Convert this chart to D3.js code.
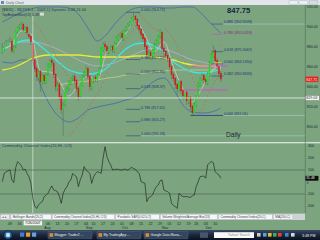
<!DOCTYPE html>
<html>
<head>
<meta charset="utf-8">
<script src="https://cdn.jsdelivr.net/npm/d3@7"></script>
<style>
html, body { margin: 0; padding: 0; overflow: hidden; background: #7ba47f; }
svg { display: block; }
</style>
</head>
<body>
<svg id="chart" width="320" height="240"></svg>
<script>
// Daily bars, 2 Jul 2007 .. 13 Dec 2007, trading-day index 0..115
const opens = [875,878,883,884,887,886,876,881,895,900,900,903,896,900,893,891,884,867,859,849,
  856,844,852,845,853,861,867,864,853,839,843,831,818,823,835,839,844,849,851,847,
  839,831,842,852,853,859,851,839,846,850,847,853,860,877,883,881,875,879,881,876,
  884,888,892,894,888,897,898,903,903,907,911,908,902,898,893,889,881,871,875,870,
  875,883,885,891,895,879,876,872,869,861,853,849,843,837,846,837,830,835,825,830,
  821,813,822,831,842,849,852,848,844,852,863,871,877,867,861,854];
const highs = [884,884,887,888,890,888,882,897,901,903,905,904,901,901,895,892,886,869,861,858,
  857,853,853,854,864,868,869,866,854,845,845,833,825,838,841,847,850,852,853,848,
  841,845,853,856,861,860,852,847,851,852,854,860,880,885,886,882,880,882,882,885,
  891,893,895,896,898,901,904,906,910,914.71,912,909,903,899,894,890,882,877,876,878,
  884,888,892,898,896,880,877,874,870,862,855,850,844,847,847,838,836,836,831,831,
  822,825,832,845,850,854,853,850,855,866,874,882,878,869,862,856];
const lows = [873,876,881,882,884,874,874,879,893,897,898,895,894,892,888,882,860,855,846,847,
  835,842,843,843,851,859,861,849,836,836,827,813,791.19,820,832,836,842,846,843,835,
  826,829,840,849,851,848,836,837,844,845,845,851,858,875,877,873,873,876,874,874,
  882,886,889,886,886,895,896,900,901,904,904,898,894,889,885,877,868,868,867,868,
  873,881,883,888,875,871,868,865,856,848,845,838,833,835,833,827,828,822,823,817,
  811.56,812,820,829,840,846,844,842,842,850,861,869,864,857,850,845];
const closes = [878,882,884,886,887,876,880,896,899,901,902,897,899,894,890,885,866,858,850,855,
  845,851,846,852,862,866,864,852,840,842,830,817,821,836,838,845,848,850,846,838,
  830,843,851,854,858,850,840,845,849,848,852,858,878,882,880,876,878,880,877,883,
  889,891,893,889,896,899,902,904,908,910,907,901,897,892,888,880,872,874,871,876,
  882,886,890,896,878,875,871,868,860,852,848,842,838,845,836,831,834,826,829,820,
  814,823,830,843,848,851,847,845,853,864,872,876,866,860,853,847.75];

// Commodity Channel Index, one value per bar
const cci = [3,75,85,94,100,17,-5,120,170,155,133,100,106,70,44,-11,-136,-200,-220,-190,
  -175,-164,-122,-110,-94,-60,-33,-67,-72,-81,-120,-178,-94,-60,-39,0,17,72,55,44,
  -39,20,58,128,100,86,72,-11,44,70,86,80,72,200,294,211,170,142,100,104,
  106,106,100,100,108,104,100,110,122,112,106,85,72,3,-5,-11,-164,-130,-122,-108,
  -70,-39,-25,10,17,-67,-75,-81,-94,-178,-195,-206,-220,-94,-110,-122,-122,-122,-125,-128,
  -115,-108,-39,0,44,48,50,31,142,160,170,161,86,70,58,31];

// Parabolic SAR dots (null = none shown)
const sar = [null,null,null,null,null,null,null,null,null,null,null,null,null,null,null,null,
  904,903,901,899,896,893,890,887,884,881,878,875,872,869,866,862,858,855,852,
  791,793,795,797,800,803,806,809,812,815,818,821,824,827,830,833,836,840,845,850,
  854,858,862,865,868,871,874,877,880,883,886,889,892,895,898,901,
  914,913,911,909,907,905,903,901,899,898,897,896,
  867,868,870,
  898,896,894,891,888,885,881,877,873,869,865,861,857,853,849,845,841,
  812,815,818,822,826,831,835,839,843,846,848,849,
  882];

// Indicator lines read every 5 bars
const sampleIdx = [0,5,10,15,20,25,30,35,40,45,50,55,60,65,70,75,80,85,90,95,100,105,110,115];
const bbUpper = [905,910,915,918,920,920,920,919,913,899,886,893,905,914,919,920,920,919,919,920,920,913,903,894];
const bbLower = [865,864,867,867,842,822,810,805,809,817,820,822,824,827,830,838,846,849,838,822,815,814,815,819];
const maCyan = [877,882,886,887,881,873,864,857,854,853,854,859,869,878,883,884,881,875,865,859,855,854,855,859];
const maYellow = [857,859,863,868,871,872,872,872,872,871,870,870,870,870,871,871,870,869,867,864,862,861,861,860];
const maLavender = [882,884,885,885,884,881,877,872,867,863,861,862,865,869,873,877,879,878,875,871,867,865,863,862];
const maKhaki = [842,844,845,846,847,849,850,852,853,854,855,856,857,857,857,857,857,857]; // from bar 30
const maFast = [878,883,896,893,856,855,846,831,842,851,847,875,881,894,906,892,875,885,860,838,825,839,856,861];

// Fibonacci retracements
const fibRatiosL = [0, 0.382, 0.5, 0.618, 0.786, 0.886, 1];
const fibHighL = 914.71, fibLowL = 791.19;
const fibRatiosR = [0, 0.382, 0.5, 0.618, 0.786, 0.886];
const fibHighR = 914.71, fibLowR = 811.56;

// other drawn levels
const pinkLevels = [861, 837];
const pinkFrom = [99.5, 95.5];

// axis ticks (23 and 30 Jul sit under the date tooltip)
const priceTicks = [920, 900, 880, 860, 840, 820, 800];
const cciTicks = [300, 200, 100, -100, -200];
const dayTickIdx = [4,9,24,29,34,39,44,48,53,58,63,68,73,78,83,88,93,98,102,107,112];
const dayTickText = ["09","16","06","13","20","27","04","10","17","24","01","08","15","22","29","05","12","19","26","03","10"];
const monthTickIdx = [22, 44, 63, 84, 107];
const monthTickText = ["Aug","Sep","Oct","Nov","Dec"];

const lastPrice = 847.75;
const crossIdx = 16, crossPrice = 829.03, crossDate = "7/26/2007";

const font = "'Liberation Sans', Arial, sans-serif";
const plotRight = 305;
const svg = d3.select("#chart");

const x = d3.scaleLinear().domain([0, 160]).range([2.4, 306.4]);
const yP = d3.scaleLinear().domain([800, 920]).range([127, 7]);
const yC = d3.scaleLinear().domain([-200, 300]).range([206, 146]);

const defs = svg.append("defs");
defs.append("clipPath").attr("id", "clipMain")
  .append("rect").attr("x", 0).attr("y", 5).attr("width", plotRight).attr("height", 137);
defs.append("clipPath").attr("id", "clipCci")
  .append("rect").attr("x", 0).attr("y", 143).attr("width", plotRight).attr("height", 70);
const tb = defs.append("linearGradient").attr("id", "taskbar").attr("x1", 0).attr("y1", 0).attr("x2", 0).attr("y2", 1);
tb.append("stop").attr("offset", 0).attr("stop-color", "#3a4a62");
tb.append("stop").attr("offset", 0.5).attr("stop-color", "#1a263a");
tb.append("stop").attr("offset", 1).attr("stop-color", "#0a1220");
const orb = defs.append("radialGradient").attr("id", "orb");
orb.append("stop").attr("offset", 0).attr("stop-color", "#9be07a");
orb.append("stop").attr("offset", 0.5).attr("stop-color", "#2f7fc8");
orb.append("stop").attr("offset", 1).attr("stop-color", "#173a6a");

// background
svg.append("rect").attr("width", 320).attr("height", 240).attr("fill", "#7ba47f");

// title bar
svg.append("rect").attr("width", 320).attr("height", 5).attr("fill", "#e2e6ea");
svg.append("rect").attr("x", 1).attr("y", 1).attr("width", 3).attr("height", 3).attr("fill", "#6b87b0");
svg.append("text").attr("x", 6).attr("y", 4).attr("font-family", font).attr("font-size", 3.6)
  .attr("fill", "#5a6470").text("Daily Chart");
[289, 299, 309].forEach(function (bx, i) {
  svg.append("rect").attr("x", bx).attr("y", 0.6).attr("width", 9).attr("height", 3.8).attr("rx", 0.8)
    .attr("fill", i === 2 ? "#d9dde2" : "#eef0f3").attr("stroke", "#9aa4ae").attr("stroke-width", 0.4);
});

// main panel
const main = svg.append("g").attr("clip-path", "url(#clipMain)");

// fib extension lines
[[fibLowR + 0.886 * (fibHighR - fibLowR), 116], [fibLowR, 116], [fibLowL, 73]].forEach(function (d) {
  main.append("line").attr("x1", x(d[1])).attr("x2", plotRight)
    .attr("y1", yP(d[0])).attr("y2", yP(d[0]))
    .attr("stroke", "#a6d2cc").attr("stroke-width", 0.6);
});

function seriesLine(idx, vals) {
  return d3.line().x(function (d) { return x(d[0]); }).y(function (d) { return yP(d[1]); })
    .curve(d3.curveMonotoneX)(d3.zip(idx, vals));
}

main.append("path").attr("d", seriesLine(sampleIdx, bbUpper)).attr("fill", "none").attr("stroke", "#3f5fb8").attr("stroke-width", 0.7);
main.append("path").attr("d", seriesLine(sampleIdx, bbLower)).attr("fill", "none").attr("stroke", "#3f5fb8").attr("stroke-width", 0.7);
main.append("path").attr("d", seriesLine(sampleIdx.slice(6), maKhaki)).attr("fill", "none").attr("stroke", "#d4d48a").attr("stroke-width", 0.7);
main.append("path").attr("d", seriesLine(sampleIdx, maLavender)).attr("fill", "none").attr("stroke", "#bfaed0").attr("stroke-width", 0.8);
main.append("path").attr("d", seriesLine(sampleIdx, maYellow)).attr("fill", "none").attr("stroke", "#eaea3a").attr("stroke-width", 1.3);
main.append("path").attr("d", seriesLine(sampleIdx, maCyan)).attr("fill", "none").attr("stroke", "#3fe6e0").attr("stroke-width", 1.3);
main.append("path").attr("d", seriesLine(sampleIdx, maFast)).attr("fill", "none").attr("stroke", "#cfd6cf").attr("stroke-width", 0.7);

// SAR dots
main.selectAll(".sar").data(sar.map(function (v, i) { return [i, v]; }).filter(function (d) { return d[1] !== null; }))
  .enter().append("rect").attr("class", "sar")
  .attr("x", function (d) { return x(d[0]) - 0.4; }).attr("y", function (d) { return yP(d[1]) - 0.4; })
  .attr("width", 0.8).attr("height", 0.8).attr("fill", "#e04a3a");

// candles
const bars = closes.map(function (c, i) { return { i: i, o: opens[i], h: highs[i], l: lows[i], c: c }; });
main.selectAll(".wick").data(bars).enter().append("line").attr("class", "wick")
  .attr("x1", function (d) { return x(d.i); }).attr("x2", function (d) { return x(d.i); })
  .attr("y1", function (d) { return yP(d.h); }).attr("y2", function (d) { return yP(d.l); })
  .attr("stroke", "#56645a").attr("stroke-width", 0.5);
main.selectAll(".body").data(bars).enter().append("rect").attr("class", "body")
  .attr("x", function (d) { return x(d.i) - 0.75; }).attr("width", 1.5)
  .attr("y", function (d) { return yP(Math.max(d.o, d.c)); })
  .attr("height", function (d) { return Math.max(0.6, Math.abs(yP(d.o) - yP(d.c))); })
  .attr("fill", function (d) { return d.c >= d.o ? "#1ce01c" : "#d81818"; });

// pink levels and short yellow mark
pinkLevels.forEach(function (p, k) {
  main.append("line").attr("x1", x(pinkFrom[k])).attr("x2", x(118.5)).attr("y1", yP(p)).attr("y2", yP(p))
    .attr("stroke", "#e23ee0").attr("stroke-width", 0.9);
});
main.append("line").attr("x1", x(111.5)).attr("x2", x(115.5)).attr("y1", yP(864)).attr("y2", yP(864))
  .attr("stroke", "#f0ee30").attr("stroke-width", 1);

// fib lines and labels
fibRatiosL.forEach(function (r) {
  const lv = fibHighL - r * (fibHighL - fibLowL);
  main.append("line").attr("x1", x(65)).attr("x2", x(72.6)).attr("y1", yP(lv)).attr("y2", yP(lv))
    .attr("stroke", "#34408c").attr("stroke-width", 0.6);
  main.append("text").attr("x", x(73)).attr("y", yP(lv) - 0.8).attr("font-family", font).attr("font-size", 3.7)
    .attr("fill", "#28327c").text(r.toFixed(3) + " (" + lv.toFixed(2) + ")");
});
fibRatiosR.forEach(function (r) {
  const lv = fibLowR + r * (fibHighR - fibLowR);
  const col = r === 0.786 ? "#8a2a86" : "#28327c";
  main.append("line").attr("x1", x(r === 0 ? 99 : 110)).attr("x2", x(116.2)).attr("y1", yP(lv)).attr("y2", yP(lv))
    .attr("stroke", r === 0.786 ? "#d048c0" : "#34408c").attr("stroke-width", r === 0 ? 0.9 : 0.6);
  main.append("text").attr("x", x(116.6)).attr("y", yP(lv) - 0.8).attr("font-family", font).attr("font-size", 3.7)
    .attr("fill", col).text(r.toFixed(3) + " (" + (r === 0 ? lv.toFixed(2) : lv.toFixed(4)) + ")");
});

// crosshair
svg.append("line").attr("x1", 0).attr("x2", plotRight).attr("y1", yP(crossPrice)).attr("y2", yP(crossPrice))
  .attr("stroke", "#eef4ee").attr("stroke-width", 0.8);
svg.append("line").attr("x1", x(crossIdx)).attr("x2", x(crossIdx)).attr("y1", 16).attr("y2", 213)
  .attr("stroke", "#dfe8df").attr("stroke-width", 0.7);

// legends
svg.append("text").attr("x", 2).attr("y", 11).attr("font-family", font).attr("font-size", 3.5)
  .attr("fill", "#233060").attr("textLength", 84).text("[$MID] - NDTVS.1 - 2009.1) Dynamic 0.09.24.00");
svg.append("text").attr("x", 2).attr("y", 15.5).attr("font-family", font).attr("font-size", 3.5)
  .attr("fill", "#233060").attr("textLength", 37).text("TopBottomNet(13) 1.38");
svg.append("rect").attr("x", 40).attr("y", 12.6).attr("width", 4).attr("height", 3).attr("fill", "#d8dcd8");
svg.append("text").attr("x", 227).attr("y", 13).attr("font-family", font).attr("font-size", 7.6)
  .attr("font-weight", "bold").attr("fill", "#1a1f45").text(lastPrice.toFixed(2));
svg.append("text").attr("x", 226).attr("y", 137).attr("font-family", font).attr("font-size", 6.6)
  .attr("fill", "#1c2430").text("Daily");

// panel separator
svg.append("line").attr("x1", 0).attr("x2", 320).attr("y1", 142.8).attr("y2", 142.8)
  .attr("stroke", "#f4f6f4").attr("stroke-width", 1.1);

// CCI panel
const sub = svg.append("g").attr("clip-path", "url(#clipCci)");
[100, -100].forEach(function (v) {
  sub.append("line").attr("x1", 0).attr("x2", plotRight).attr("y1", yC(v)).attr("y2", yC(v))
    .attr("stroke", "#4d5f50").attr("stroke-width", 0.6);
});
sub.append("path")
  .attr("d", d3.line().x(function (d, i) { return x(i); }).y(function (d) { return yC(d); })(cci))
  .attr("fill", "none").attr("stroke", "#141a16").attr("stroke-width", 0.6);
svg.append("text").attr("x", 2).attr("y", 147.3).attr("font-family", font).attr("font-size", 3.5)
  .attr("fill", "#233060").attr("textLength", 70).text("Commodity Channel Index(20,HL C/3)");

// right axis
svg.append("line").attr("x1", plotRight + 0.3).attr("x2", plotRight + 0.3).attr("y1", 5).attr("y2", 213)
  .attr("stroke", "#566e58").attr("stroke-width", 0.6);
priceTicks.forEach(function (p) {
  svg.append("text").attr("x", 306.8).attr("y", yP(p) + 1.3).attr("font-family", font).attr("font-size", 3.6)
    .attr("fill", "#1d2a30").text(p.toFixed(2));
});
cciTicks.forEach(function (v) {
  svg.append("text").attr("x", v < 0 ? 306.8 : 308).attr("y", yC(v) + 1.3).attr("font-family", font).attr("font-size", 3.6)
    .attr("fill", "#1d2a30").text(v);
});
svg.append("text").attr("x", 306.8).attr("y", yC(0) + 2.4).attr("font-family", font).attr("font-size", 3.2)
  .attr("fill", "#1d2a30").text("0");
svg.append("rect").attr("x", 305.4).attr("y", yP(lastPrice) - 2.6).attr("width", 13).attr("height", 5.2).attr("fill", "#e8201c");
svg.append("text").attr("x", 306.3).attr("y", yP(lastPrice) + 1.3).attr("font-family", font).attr("font-size", 3.6)
  .attr("fill", "#ffe0e0").text(lastPrice.toFixed(2));
svg.append("rect").attr("x", 305.4).attr("y", yP(crossPrice) - 2.6).attr("width", 14).attr("height", 5.2)
  .attr("fill", "#f4f6f4").attr("stroke", "#30363a").attr("stroke-width", 0.3);
svg.append("text").attr("x", 306.2).attr("y", yP(crossPrice) + 1.3).attr("font-family", font).attr("font-size", 3.6)
  .attr("fill", "#1d2a30").text(crossPrice.toFixed(2));
svg.append("rect").attr("x", 305.4).attr("y", yC(cci[cci.length - 1]) - 2.4).attr("width", 13).attr("height", 4.8).attr("fill", "#0c0c0c");
svg.append("text").attr("x", 306.2).attr("y", yC(cci[cci.length - 1]) + 1.2).attr("font-family", font).attr("font-size", 3.4)
  .attr("fill", "#f0f0f0").text("31.48");

// tab bar
svg.append("rect").attr("x", 0).attr("y", 213.6).attr("width", plotRight).attr("height", 6.4).attr("fill", "#cdd2d6");
svg.append("rect").attr("x", 0.5).attr("y", 214.4).attr("width", 9).attr("height", 4.8).attr("fill", "#e8eaec")
  .attr("stroke", "#8a9298").attr("stroke-width", 0.3);
svg.append("text").attr("x", 1.6).attr("y", 218.2).attr("font-family", font).attr("font-size", 3.4).attr("fill", "#333").text("◂ ▸");
const tabs = ["Bollinger Bands(20,2)", "Commodity Channel Index(20,HL C/3)", "Parabolic SAR(0.02,0.2)",
  "Volume Weighted Average Bar(13)", "Commodity Channel Index(20,C)", "MA(200,C)"];
let tx = 11;
tabs.forEach(function (t) {
  const w = t.length * 1.72 + 4;
  svg.append("rect").attr("x", tx).attr("y", 214.3).attr("width", w).attr("height", 5).attr("fill", "#f6f7f8")
    .attr("stroke", "#8d959b").attr("stroke-width", 0.3);
  svg.append("text").attr("x", tx + 2).attr("y", 218).attr("font-family", font).attr("font-size", 3.1)
    .attr("fill", "#3a4048").text(t);
  tx += w + 1;
});

// date axis
dayTickIdx.forEach(function (d, k) {
  svg.append("text").attr("x", x(d)).attr("y", 224.6).attr("text-anchor", "middle").attr("font-family", font)
    .attr("font-size", 3.6).attr("fill", "#1d2a30").text(dayTickText[k]);
});
monthTickIdx.forEach(function (d, k) {
  svg.append("text").attr("x", x(d)).attr("y", 229.4).attr("font-family", font)
    .attr("font-size", 3.6).attr("fill", "#1d2a30").text(monthTickText[k]);
});
svg.append("rect").attr("x", x(crossIdx) - 9.5).attr("y", 220.4).attr("width", 19).attr("height", 5.2)
  .attr("fill", "#f3f3ec").attr("stroke", "#6a6a6a").attr("stroke-width", 0.3);
svg.append("text").attr("x", x(crossIdx)).attr("y", 224.3).attr("text-anchor", "middle").attr("font-family", font)
  .attr("font-size", 3.5).attr("fill", "#202020").text(crossDate);

// taskbar
svg.append("rect").attr("x", 0).attr("y", 230).attr("width", 320).attr("height", 10).attr("fill", "url(#taskbar)");
svg.append("circle").attr("cx", 8).attr("cy", 235).attr("r", 4.4).attr("fill", "url(#orb)").attr("stroke", "#0b1a30").attr("stroke-width", 0.5);
svg.append("rect").attr("x", 6.2).attr("y", 233.2).attr("width", 3.6).attr("height", 3.6).attr("fill", "#f2f2e8").attr("opacity", 0.8);
[["#3a7fd0", 20], ["#e0a030", 26], ["#6aa0e0", 32]].forEach(function (d) {
  svg.append("rect").attr("x", d[1]).attr("y", 232.6).attr("width", 4.2).attr("height", 4.2).attr("rx", 0.6).attr("fill", d[0]);
});
[["Blogger: Trader2 ...", 48], ["My TradingApp ...", 97], ["Google Data Mana...", 144]].forEach(function (d) {
  svg.append("rect").attr("x", d[1]).attr("y", 231.4).attr("width", 44).attr("height", 7.4).attr("rx", 0.8)
    .attr("fill", "#33465f").attr("stroke", "#5e728c").attr("stroke-width", 0.4);
  svg.append("rect").attr("x", d[1] + 1.5).attr("y", 233.2).attr("width", 3.6).attr("height", 3.6).attr("fill", "#e08a30");
  svg.append("text").attr("x", d[1] + 6.5).attr("y", 236.4).attr("font-family", font).attr("font-size", 3.4)
    .attr("fill", "#e8ecf2").text(d[0]);
});
svg.append("rect").attr("x", 200).attr("y", 232.4).attr("width", 8).attr("height", 5.4).attr("fill", "#46566c");
svg.append("rect").attr("x", 214).attr("y", 232.2).attr("width", 40).attr("height", 5.8).attr("fill", "#f8f8f8");
svg.append("text").attr("x", 228).attr("y", 236.4).attr("font-family", font).attr("font-size", 3.4)
  .attr("fill", "#8a8a8a").text("Yahoo! Search");
[["#c8c8c8", 257], ["#5aa0e0", 263], ["#e0c030", 268], ["#40b040", 273], ["#e04040", 278], ["#3a8ad8", 285], ["#d8d8d8", 291]].forEach(function (d) {
  svg.append("rect").attr("x", d[1]).attr("y", 233).attr("width", 3.6).attr("height", 3.6).attr("fill", d[0]);
});
svg.append("text").attr("x", 302).attr("y", 236.5).attr("font-family", font).attr("font-size", 3.6)
  .attr("fill", "#f0f4f8").text("3:48 PM");
</script>
</body>
</html>
